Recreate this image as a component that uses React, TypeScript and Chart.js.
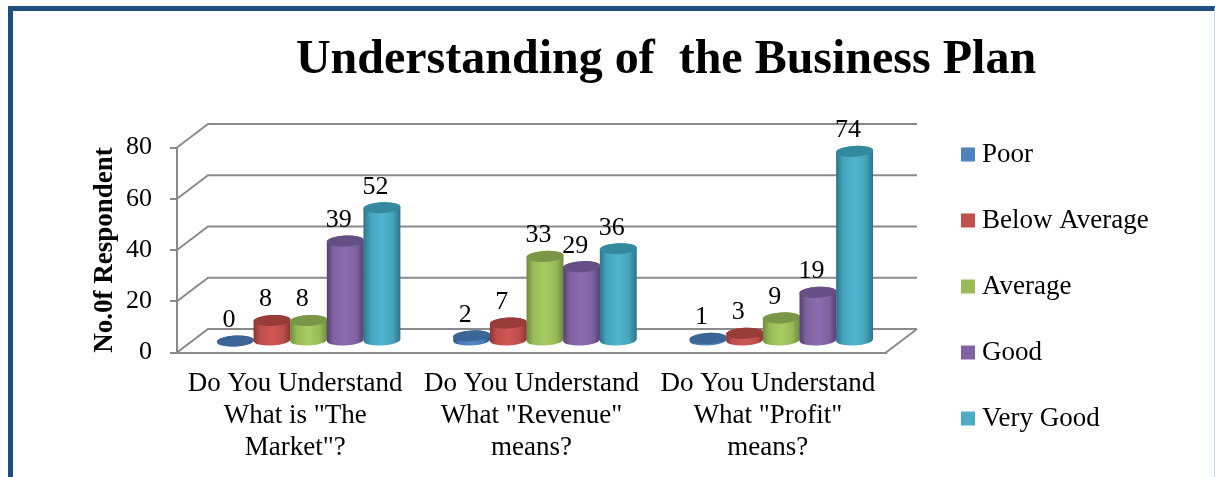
import React, { useEffect, useRef } from "react";
import { Chart, registerables } from "chart.js";

Chart.register(...registerables);

const categories = [
  ["Do You Understand", 'What is "The', 'Market"?'],
  ["Do You Understand", 'What "Revenue"', "means?"],
  ["Do You Understand", 'What "Profit"', "means?"],
];
const poor = [0, 2, 1];
const belowAverage = [8, 7, 3];
const average = [8, 33, 9];
const good = [39, 29, 19];
const veryGood = [52, 36, 74];

const titleText = "Understanding of  the Business Plan";
const yTitle = "No.0f Respondent";
const FONT = '"Liberation Serif"';
const GRID = "#8a8a8a";

const DEPTH_X = 31;
const DEPTH_Y = 23.5;
const BAR_DX = 13.5;
const BAR_DY = 11.5;
const RY = 5.5;

const series = [
  { label: "Poor", data: poor, color: "#4F81BD", edge: "#2f5283", mid: "#4a7ab6", light: "#5288c8", top: "#3a6596" },
  { label: "Below Average", data: belowAverage, color: "#C0504D", edge: "#8a3533", mid: "#bd4e4b", light: "#cf5754", top: "#983c3a" },
  { label: "Average", data: average, color: "#9BBB59", edge: "#6f8a3c", mid: "#98ba57", light: "#a8cc62", top: "#7a9647" },
  { label: "Good", data: good, color: "#8064A2", edge: "#55406f", mid: "#7e62a0", light: "#8c6cb0", top: "#654f84" },
  { label: "Very Good", data: veryGood, color: "#4BACC6", edge: "#2b7489", mid: "#45a3bc", light: "#50b6d2", top: "#338a9f" },
];

const cylinderPlugin = {
  id: "cylinders",
  beforeLayout(chart: any) {
    const legend = chart.legend;
    if (legend && !legend.__patched) {
      const fit = legend.fit.bind(legend);
      legend.fit = () => {
        fit();
        legend.width = 329;
      };
      legend.__patched = true;
    }
  },
  afterLayout(chart: any) {
    chart.legend.left = 928.5;
    chart.legend.top = 102;
    chart.titleBlock.left = 117;
  },
  beforeDatasetsDraw(chart: any) {
    const { ctx, scales } = chart;
    const y = scales.y;
    const x = scales.x;
    ctx.save();
    ctx.strokeStyle = GRID;
    ctx.lineWidth = 2;
    y.ticks.forEach((t: any) => {
      const py = y.getPixelForValue(t.value);
      ctx.beginPath();
      ctx.moveTo(x.left, py);
      ctx.lineTo(x.left + DEPTH_X, py - DEPTH_Y);
      ctx.lineTo(x.right + DEPTH_X, py - DEPTH_Y);
      ctx.stroke();
    });
    const base = y.getPixelForValue(0);
    ctx.beginPath();
    ctx.moveTo(x.right, base);
    ctx.lineTo(x.right + DEPTH_X, base - DEPTH_Y);
    ctx.stroke();
    ctx.restore();
  },
  beforeDatasetDraw() {
    return false;
  },
  afterDatasetsDraw(chart: any) {
    const { ctx } = chart;
    const rot = (-3 * Math.PI) / 180;
    ctx.save();
    series.forEach((s, i) => {
      chart.getDatasetMeta(i).data.forEach((el: any) => {
        const cx = el.x + BAR_DX;
        const top = el.y - BAR_DY;
        const bottom = el.base - BAR_DY;
        const rx = 18.5;
        const g = ctx.createLinearGradient(cx - rx, 0, cx + rx, 0);
        g.addColorStop(0, s.edge);
        g.addColorStop(0.18, s.mid);
        g.addColorStop(0.5, s.light);
        g.addColorStop(0.8, s.mid);
        g.addColorStop(1, s.edge);
        ctx.fillStyle = g;
        ctx.beginPath();
        ctx.ellipse(cx, bottom, rx, RY, rot, Math.PI, 0, true);
        ctx.ellipse(cx, top, rx, RY, rot, 0, Math.PI, true);
        ctx.closePath();
        ctx.fill();
        ctx.fillStyle = s.top;
        ctx.beginPath();
        ctx.ellipse(cx, top, rx, RY, rot, 0, Math.PI * 2);
        ctx.fill();
      });
    });
    ctx.fillStyle = "#000";
    ctx.font = `26px ${FONT}`;
    ctx.textAlign = "center";
    ctx.textBaseline = "middle";
    series.forEach((s, i) => {
      chart.getDatasetMeta(i).data.forEach((el: any, j: number) => {
        ctx.fillText(String(s.data[j]), el.x + BAR_DX - 6.5, el.y - BAR_DY - 21);
      });
    });
    ctx.restore();
  },
};

export default function App() {
  const ref = useRef<HTMLCanvasElement | null>(null);
  useEffect(() => {
    const chart = new Chart(ref.current as HTMLCanvasElement, {
      type: "bar",
      data: {
        labels: categories as any,
        datasets: series.map((s) => ({
          label: s.label,
          data: s.data,
          backgroundColor: s.color,
          barPercentage: 1,
          categoryPercentage: 0.775,
        })),
      },
      plugins: [cylinderPlugin],
      options: {
        responsive: false,
        animation: false,
        events: [],
        layout: { autoPadding: false, padding: 0 },
        plugins: {
          tooltip: { enabled: false },
          title: {
            display: true,
            text: titleText,
            color: "#000",
            font: { family: FONT, size: 48, weight: "bold", lineHeight: 1.2 },
            padding: { top: 32, bottom: 57.9 },
          },
          legend: {
            position: "right",
            align: "start",
            labels: {
              usePointStyle: true,
              pointStyle: "rect",
              boxWidth: 1,
              boxHeight: 14,
              padding: 39,
              color: "#000",
              font: { family: FONT, size: 27 },
            },
          },
        },
        scales: {
          x: {
            afterFit(scale: any) {
              scale.height = 124.5;
            },
            grid: { display: true, drawOnChartArea: false, drawTicks: false, color: GRID, lineWidth: 2 },
            border: { display: true, color: GRID, width: 2 },
            ticks: {
              autoSkip: false,
              maxRotation: 0,
              minRotation: 0,
              padding: 16,
              color: "#000",
              font: { family: FONT, size: 27, lineHeight: 1.17 },
            },
          },
          y: {
            min: 0,
            max: 80,
            afterFit(scale: any) {
              scale.width = 177;
            },
            grid: { drawOnChartArea: false, drawTicks: true, tickLength: 7, color: GRID, lineWidth: 2 },
            border: { display: true, color: GRID, width: 2 },
            ticks: {
              stepSize: 20,
              padding: 18,
              color: "#000",
              font: { family: FONT, size: 26 },
            },
            title: {
              display: true,
              text: yTitle,
              color: "#000",
              font: { family: FONT, size: 27, weight: "bold", lineHeight: 1.2 },
              padding: { top: 89, bottom: 0 },
            },
          },
        },
      },
    } as any);
    return () => chart.destroy();
  }, []);
  return (
    <div style={{ position: "absolute", left: 0, top: 0, width: 1215, height: 477, overflow: "hidden", background: "#fff" }}>
      <div
        style={{
          position: "absolute",
          left: 7.5,
          top: 5.5,
          right: 0,
          bottom: -10,
          borderLeft: "5px solid #1F4E80",
          borderTop: "5px solid #1F4E80",
          borderRight: "1px solid #c9d6e6",
        }}
      />
      <canvas ref={ref} width={1215} height={477} style={{ position: "absolute", left: 0, top: 0, display: "block" }} />
    </div>
  );
}
